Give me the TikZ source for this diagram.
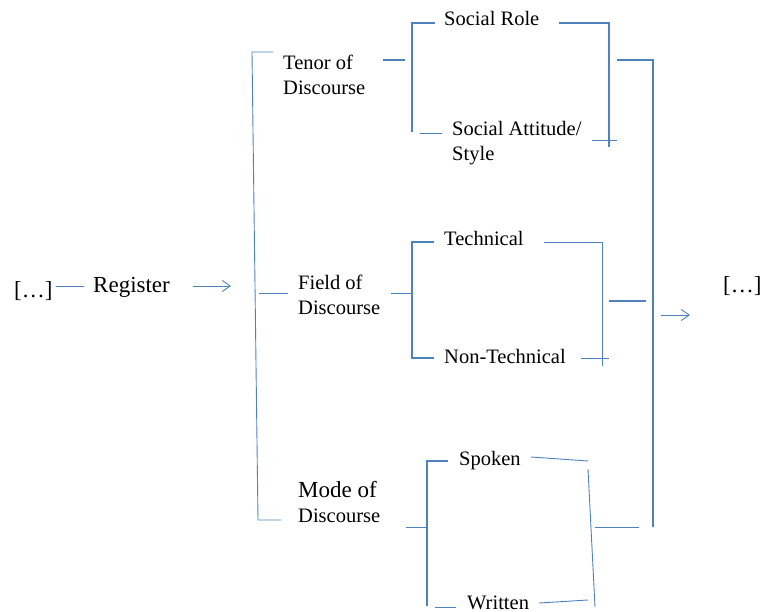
\documentclass[tikz,border=0pt]{standalone}
\usepackage{fontspec}
\setmainfont{Liberation Serif}
\usetikzlibrary{arrows.meta}
\definecolor{lblue}{RGB}{79,129,189}
\begin{document}
\begin{tikzpicture}[x=1pt,y=-1pt,
  lbl/.style={inner sep=0pt,anchor=base west,align=left,font=\fontsize{20.5}{25}\selectfont},
  big/.style={lbl,font=\fontsize{23}{27}\selectfont},
  thn/.style={draw=lblue,line width=0.9pt},
  thk/.style={draw=lblue,line width=1.5pt},
  arr/.style={thn,-{Straight Barb[length=8pt,width=11pt,line width=0.9pt]}}]
\useasboundingbox (0,0) rectangle (763,612);
% texts
\node[big] (l) at (14,298) {[…]};
\node[big] (reg) at (93,293) {Register};
\node[lbl] (tenor) at (283,95) {Tenor of\\Discourse};
\node[lbl] (field) at (298,315) {Field of\\Discourse};
\node[lbl] (mode) at (298,522) {\fontsize{23}{27}\selectfont Mode of\\\fontsize{20.5}{25}\selectfont Discourse};
\node[lbl] (role) at (444,26) {Social Role};
\node[lbl] (att) at (452,161) {Social Attitude/\\Style};
\node[lbl] (tech) at (444,246) {Technical};
\node[lbl] (ntech) at (444,363) {Non-Technical};
\node[lbl] (spok) at (459,465) {Spoken};
\node[lbl] (writ) at (467,609) {Written};
\node[big] (r) at (723,293) {[…]};
% left
\coordinate (l1) at (56,286); \coordinate (l2) at (84,286);
\draw[thn] (l1) -- (l2);
\coordinate (a1) at (193,286); \coordinate (a2) at (231,286);
\draw[arr] (a1) -- (a2);
% big left bracket
\draw[thn] (273,52) -- (252,52) -- (258,520) -- (281,520);
\draw[thn] (259,293) -- (288,293);
% tenor group
\draw[thk] (383,60) -- (405,60);
\draw[thk] (435,23) -- (412,23) -- (412,132);
\draw[thn] (420,133) -- (442,133);
\draw[thk] (559,23) -- (609,23) -- (609,147);
\draw[thn] (592,140) -- (617,140);
\draw[thk] (617,60) -- (653,60) -- (653,527);
% field group
\draw[thn] (391,293) -- (412,293);
\draw[thk] (434,242) -- (412,242) -- (412,358) -- (434,358);
\draw[thn] (544,242) -- (602,242) -- (602,366);
\draw[thn] (581,358) -- (609,358);
\draw[thk] (609,301) -- (646,301);
% mode group
\draw[thn] (406,527) -- (426,527);
\draw[thk] (448,461) -- (427,461) -- (427,606);
\draw[thn] (435,607) -- (456,607);
\draw[thn] (531,457) -- (588,461);
\draw[thn] (588,469) -- (595,607);
\draw[thn] (539,603) -- (588,600);
\draw[thn] (595,527) -- (639,527);
% right arrow
\draw[arr] (661,315) -- (690,315);
\end{tikzpicture}
\end{document}
